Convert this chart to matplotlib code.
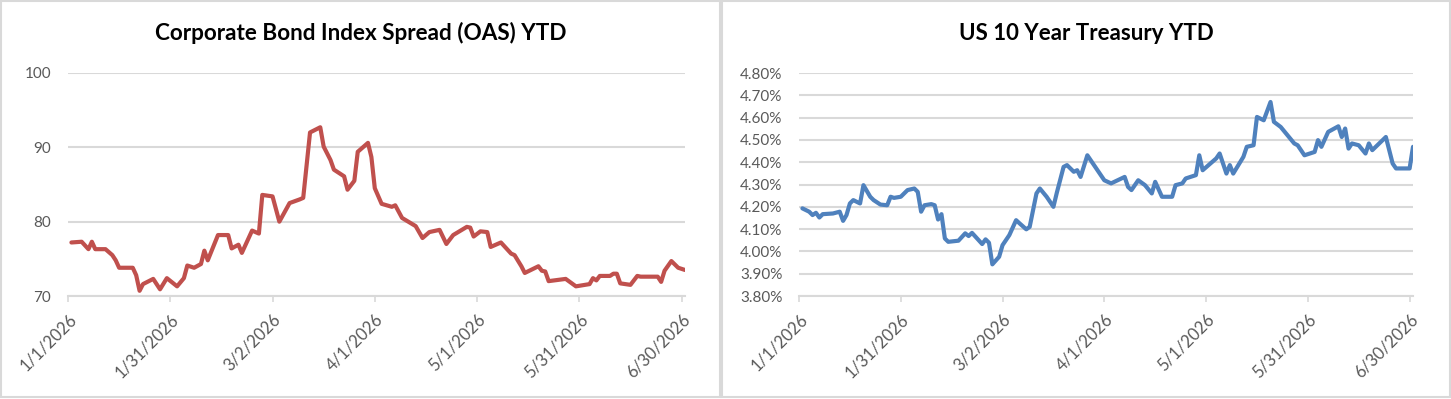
import matplotlib
matplotlib.use("Agg")
import matplotlib.pyplot as plt
import matplotlib.dates as mdates
from matplotlib.patches import Rectangle
from matplotlib.ticker import FuncFormatter
import numpy as np

plt.rcParams['font.family'] = ['Lato', 'DejaVu Sans']

# ---------------- data ----------------
oas_dates = ["2026-01-02", "2026-01-05", "2026-01-07", "2026-01-08", "2026-01-09", "2026-01-12",
             "2026-01-14", "2026-01-15", "2026-01-16", "2026-01-20", "2026-01-21", "2026-01-22",
             "2026-01-23", "2026-01-26", "2026-01-28", "2026-01-30", "2026-02-02", "2026-02-04",
             "2026-02-05", "2026-02-07", "2026-02-09", "2026-02-10", "2026-02-11", "2026-02-14",
             "2026-02-17", "2026-02-18", "2026-02-20", "2026-02-21", "2026-02-24", "2026-02-26",
             "2026-02-27", "2026-03-02", "2026-03-04", "2026-03-07", "2026-03-10", "2026-03-11",
             "2026-03-13", "2026-03-16", "2026-03-17", "2026-03-19", "2026-03-20", "2026-03-23",
             "2026-03-24", "2026-03-26", "2026-03-27", "2026-03-30", "2026-03-31", "2026-04-01",
             "2026-04-03", "2026-04-06", "2026-04-07", "2026-04-09", "2026-04-13", "2026-04-15",
             "2026-04-17", "2026-04-20", "2026-04-22", "2026-04-24", "2026-04-28", "2026-04-29",
             "2026-04-30", "2026-05-02", "2026-05-04", "2026-05-05", "2026-05-08", "2026-05-11",
             "2026-05-12", "2026-05-14", "2026-05-15", "2026-05-19", "2026-05-20", "2026-05-21",
             "2026-05-22", "2026-05-27", "2026-05-30", "2026-06-03", "2026-06-04", "2026-06-05",
             "2026-06-06", "2026-06-09", "2026-06-10", "2026-06-11", "2026-06-12", "2026-06-15",
             "2026-06-17", "2026-06-18", "2026-06-23", "2026-06-24", "2026-06-25", "2026-06-27",
             "2026-06-29", "2026-07-01"]
oas_values = [77.2, 77.3, 76.3, 77.3, 76.3, 76.3,
              75.5, 74.8, 73.8, 73.8, 72.8, 70.7,
              71.6, 72.3, 70.9, 72.4, 71.3, 72.4,
              74.1, 73.8, 74.3, 76.1, 74.8, 78.2,
              78.2, 76.4, 76.9, 75.8, 78.8, 78.4,
              83.6, 83.4, 80.0, 82.5, 83.0, 83.2,
              92.0, 92.7, 90.1, 88.3, 87.0, 86.1,
              84.3, 85.5, 89.4, 90.6, 88.7, 84.5,
              82.4, 82.0, 82.2, 80.5, 79.4, 77.8,
              78.6, 78.9, 77.0, 78.2, 79.3, 79.2,
              78.0, 78.7, 78.6, 76.6, 77.2, 75.7,
              75.5, 74.0, 73.1, 74.0, 73.4, 73.3,
              72.0, 72.3, 71.3, 71.6, 72.4, 72.1,
              72.7, 72.7, 73.0, 73.0, 71.7, 71.5,
              72.7, 72.6, 72.6, 71.9, 73.4, 74.7,
              73.8, 73.5]

ust_dates = ["2026-01-02", "2026-01-04", "2026-01-05", "2026-01-06", "2026-01-07", "2026-01-08",
             "2026-01-11", "2026-01-13", "2026-01-14", "2026-01-15", "2026-01-16", "2026-01-17",
             "2026-01-19", "2026-01-20", "2026-01-22", "2026-01-23", "2026-01-25", "2026-01-27",
             "2026-01-28", "2026-01-29", "2026-01-31", "2026-02-02", "2026-02-04", "2026-02-05",
             "2026-02-06", "2026-02-07", "2026-02-09", "2026-02-10", "2026-02-11", "2026-02-12",
             "2026-02-13", "2026-02-14", "2026-02-17", "2026-02-19", "2026-02-20", "2026-02-21",
             "2026-02-24", "2026-02-25", "2026-02-26", "2026-02-27", "2026-03-01", "2026-03-02",
             "2026-03-04", "2026-03-06", "2026-03-07", "2026-03-09", "2026-03-10", "2026-03-12",
             "2026-03-13", "2026-03-15", "2026-03-17", "2026-03-18", "2026-03-20", "2026-03-21",
             "2026-03-23", "2026-03-24", "2026-03-25", "2026-03-27", "2026-04-01", "2026-04-03",
             "2026-04-07", "2026-04-08", "2026-04-09", "2026-04-11", "2026-04-13", "2026-04-15",
             "2026-04-16", "2026-04-18", "2026-04-21", "2026-04-22", "2026-04-24", "2026-04-25",
             "2026-04-28", "2026-04-29", "2026-04-30", "2026-05-04", "2026-05-05", "2026-05-07",
             "2026-05-08", "2026-05-09", "2026-05-12", "2026-05-13", "2026-05-15", "2026-05-16",
             "2026-05-18", "2026-05-20", "2026-05-21", "2026-05-23", "2026-05-27", "2026-05-28",
             "2026-05-30", "2026-06-02", "2026-06-03", "2026-06-04", "2026-06-06", "2026-06-09",
             "2026-06-10", "2026-06-11", "2026-06-12", "2026-06-13", "2026-06-15", "2026-06-17",
             "2026-06-18", "2026-06-19", "2026-06-23", "2026-06-25", "2026-06-26", "2026-06-30",
             "2026-07-01"]
ust_values = [4.193, 4.178, 4.163, 4.173, 4.152, 4.167,
              4.170, 4.178, 4.137, 4.163, 4.215, 4.230,
              4.215, 4.297, 4.245, 4.230, 4.210, 4.207,
              4.245, 4.240, 4.245, 4.275, 4.282, 4.267,
              4.178, 4.207, 4.212, 4.207, 4.143, 4.167,
              4.058, 4.043, 4.048, 4.081, 4.069, 4.083,
              4.033, 4.054, 4.039, 3.942, 3.976, 4.028,
              4.073, 4.140, 4.126, 4.099, 4.110, 4.260,
              4.282, 4.245, 4.200, 4.263, 4.379, 4.387,
              4.357, 4.364, 4.334, 4.431, 4.319, 4.305,
              4.334, 4.289, 4.275, 4.319, 4.297, 4.260,
              4.312, 4.245, 4.245, 4.297, 4.305, 4.327,
              4.342, 4.431, 4.364, 4.417, 4.439, 4.349,
              4.387, 4.349, 4.424, 4.469, 4.476, 4.603,
              4.588, 4.670, 4.581, 4.558, 4.484, 4.476,
              4.431, 4.446, 4.499, 4.469, 4.536, 4.561,
              4.513, 4.551, 4.461, 4.484, 4.476, 4.439,
              4.484, 4.454, 4.513, 4.394, 4.372, 4.372,
              4.469]

oas_title = "Corporate Bond Index Spread (OAS) YTD"
ust_title = "US 10 Year Treasury YTD"
tick_dates = ["2026-01-01", "2026-01-31", "2026-03-02", "2026-04-01", "2026-05-01", "2026-05-31", "2026-06-30"]
oas_yticks = [70, 80, 90, 100]
ust_yticks = [3.8, 3.9, 4.0, 4.1, 4.2, 4.3, 4.4, 4.5, 4.6, 4.7, 4.8]
x_start = "2026-01-01"
x_end = "2026-07-01"

assert len(oas_dates) == len(oas_values), (len(oas_dates), len(oas_values))
assert len(ust_dates) == len(ust_values), (len(ust_dates), len(ust_values))

# ---------------- figure ----------------
W, H = 1451, 399
fig = plt.figure(figsize=(W / 100, H / 100), dpi=100)
fig.patch.set_facecolor("white")

GRID = "#D9D9D9"
TXT = "#595959"


def px_rect(x0, y0, x1, y1):
    """pixel box (top-left origin) -> figure fraction [l, b, w, h]"""
    return [x0 / W, 1 - y1 / H, (x1 - x0) / W, (y1 - y0) / H]


# panel borders
for (x0, y0, x1, y1) in [(1, 1, 720, 397), (722, 1, 1450, 397)]:
    fig.add_artist(Rectangle((x0 / W, 1 - y1 / H), (x1 - x0) / W, (y1 - y0) / H,
                             transform=fig.transFigure, fill=False,
                             edgecolor=GRID, lw=1.5))


def date_fmt(x, pos):
    d = mdates.num2date(x)
    return f"{d.month}/{d.day}/{d.year}"


def to_dates(lst):
    return np.array(lst, dtype="datetime64[D]")


def setup(ax, ylim, yticks, yfmt):
    ax.set_facecolor("none")
    for s in ["left", "right", "top"]:
        ax.spines[s].set_visible(False)
    ax.spines["bottom"].set_color(GRID)
    ax.spines["bottom"].set_linewidth(1.5)
    ax.spines["bottom"].set_zorder(1)
    ax.set_xlim(np.datetime64(x_start), np.datetime64(x_end))
    ax.set_ylim(*ylim)
    ax.set_yticks(yticks)
    ax.yaxis.set_major_formatter(FuncFormatter(yfmt))
    ax.set_xticks(to_dates(tick_dates))
    ax.xaxis.set_major_formatter(FuncFormatter(date_fmt))
    ax.grid(axis="y", color=GRID, lw=1.5, zorder=0)
    ax.set_axisbelow(True)
    ax.tick_params(axis="y", length=0, pad=12, labelsize=11, labelcolor=TXT)
    ax.tick_params(axis="x", direction="out", length=4, width=1.2, color=GRID,
                   pad=7, labelsize=12, labelcolor=TXT)
    for lab in ax.get_xticklabels():
        lab.set_rotation(45)
        lab.set_ha("right")
        lab.set_va("top")
        lab.set_rotation_mode("anchor")


# left chart
ax1 = fig.add_axes(px_rect(68, 73, 685, 296))
ax1.plot(to_dates(oas_dates), oas_values, color="#C0504D", lw=3.0,
         solid_joinstyle="round", solid_capstyle="round", zorder=3)
setup(ax1, (70, 100), oas_yticks, lambda v, p: f"{v:.0f}")

# right chart
ax2 = fig.add_axes(px_rect(799, 73, 1413, 296))
ax2.plot(to_dates(ust_dates), ust_values, color="#4F81BD", lw=3.0,
         solid_joinstyle="round", solid_capstyle="round", zorder=3)
setup(ax2, (3.8, 4.8), ust_yticks, lambda v, p: f"{v:.2f}%")

fig.text(360.5 / W, 1 - 33 / H, oas_title, ha="center", va="center",
         fontsize=16.2, fontweight="bold", color="black")
fig.text(1086 / W, 1 - 33 / H, ust_title, ha="center", va="center",
         fontsize=16.0, fontweight="bold", color="black")

fig.savefig("out.png", dpi=100, facecolor="white")
